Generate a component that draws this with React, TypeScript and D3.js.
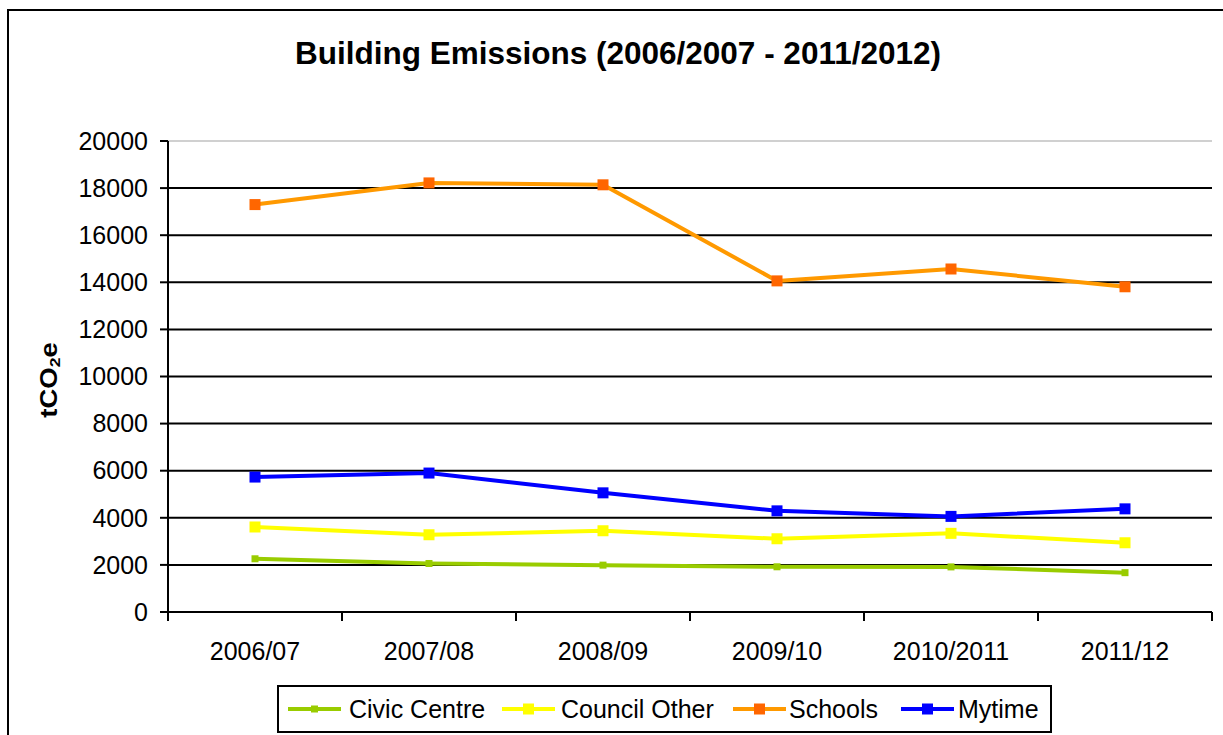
import React from "react";
import * as d3 from "d3";

const categories = ["2006/07", "2007/08", "2008/09", "2009/10", "2010/2011", "2011/12"];
const civicCentre = [2260, 2060, 1990, 1920, 1915, 1670];
const councilOther = [3610, 3280, 3450, 3110, 3340, 2940];
const schools = [17300, 18220, 18140, 14060, 14565, 13810];
const mytime = [5730, 5900, 5060, 4295, 4060, 4380];
const yTicks = [0, 2000, 4000, 6000, 8000, 10000, 12000, 14000, 16000, 18000, 20000];

const series = [
  { name: "Civic Centre", values: civicCentre, line: "#99CC00", marker: "#99CC00", size: 7 },
  { name: "Council Other", values: councilOther, line: "#FFFF00", marker: "#FFFF00", size: 11 },
  { name: "Schools", values: schools, line: "#FF9900", marker: "#FF6600", size: 11 },
  { name: "Mytime", values: mytime, line: "#0000FF", marker: "#0000FF", size: 11 },
];

const FONT = "'Liberation Sans', Arial, sans-serif";

export default function App() {
  const left = 168, right = 1212, top = 141, bottom = 612;
  const x = d3.scaleBand<string>().domain(categories).range([left, right]);
  const y = d3.scaleLinear().domain([0, 20000]).range([bottom, top]);
  const line = d3.line<number>()
    .x((_, i) => (x(categories[i]) as number) + x.bandwidth() / 2)
    .y((d) => y(d));

  const boundaries = categories.map((c) => x(c) as number).concat([right]);

  const legendItems = [
    { lx: 288, tx: 349 },
    { lx: 502, tx: 561 },
    { lx: 733, tx: 789 },
    { lx: 901, tx: 958 },
  ];

  return (
    <svg width={1223} height={735} style={{ position: "absolute", left: 0, top: 0 }} fontFamily={FONT}>
      <rect x={0} y={0} width={1223} height={735} fill="#fff" />
      <rect x={8} y={10} width={1240} height={760} fill="none" stroke="#000" strokeWidth={2} />
      <text x={618} y={64} textAnchor="middle" fontSize={31.5} fontWeight="bold">
        Building Emissions (2006/2007 - 2011/2012)
      </text>

      {/* gridlines */}
      {yTicks.map((t) => (
        <line key={t} x1={left} x2={right} y1={y(t)} y2={y(t)}
          stroke={t === 20000 ? "#d0d0d0" : "#000"} strokeWidth={2} />
      ))}
      {/* y axis */}
      <line x1={left} x2={left} y1={top} y2={bottom + 1} stroke="#000" strokeWidth={2} />
      {yTicks.map((t) => (
        <g key={"yt" + t}>
          <line x1={left - 8} x2={left} y1={y(t)} y2={y(t)} stroke="#000" strokeWidth={2} />
          <text x={148} y={y(t)} dy="0.35em" textAnchor="end" fontSize={25}>{t}</text>
        </g>
      ))}
      {/* x axis */}
      {boundaries.map((b, i) => (
        <line key={"xt" + i} x1={b} x2={b} y1={bottom} y2={bottom + 9} stroke="#000" strokeWidth={2} />
      ))}
      {categories.map((c) => (
        <text key={c} x={(x(c) as number) + x.bandwidth() / 2} y={660} textAnchor="middle" fontSize={25}>{c}</text>
      ))}

      <text transform="translate(57,380) rotate(-90) scale(1.1,0.92)" textAnchor="middle" fontSize={25} fontWeight="bold">
        tCO<tspan fontSize={16} dy={3}>2</tspan><tspan dy={-3}>e</tspan>
      </text>

      {/* series */}
      {series.map((s) => (
        <g key={s.name}>
          <path d={line(s.values) as string} fill="none" stroke={s.line} strokeWidth={4} strokeLinejoin="round" />
          {s.values.map((v, i) => (
            <rect key={i}
              x={(x(categories[i]) as number) + x.bandwidth() / 2 - s.size / 2}
              y={y(v) - s.size / 2}
              width={s.size} height={s.size} fill={s.marker} />
          ))}
        </g>
      ))}

      {/* legend */}
      <rect x={278} y={686} width={773} height={46} fill="#fff" stroke="#000" strokeWidth={2} />
      {series.map((s, i) => (
        <g key={"lg" + s.name}>
          <line x1={legendItems[i].lx} x2={legendItems[i].lx + 53} y1={709} y2={709} stroke={s.line} strokeWidth={4} />
          <rect x={legendItems[i].lx + 26.5 - s.size / 2} y={709 - s.size / 2} width={s.size} height={s.size} fill={s.marker} />
          <text x={legendItems[i].tx} y={718} fontSize={25}>{s.name}</text>
        </g>
      ))}
    </svg>
  );
}
